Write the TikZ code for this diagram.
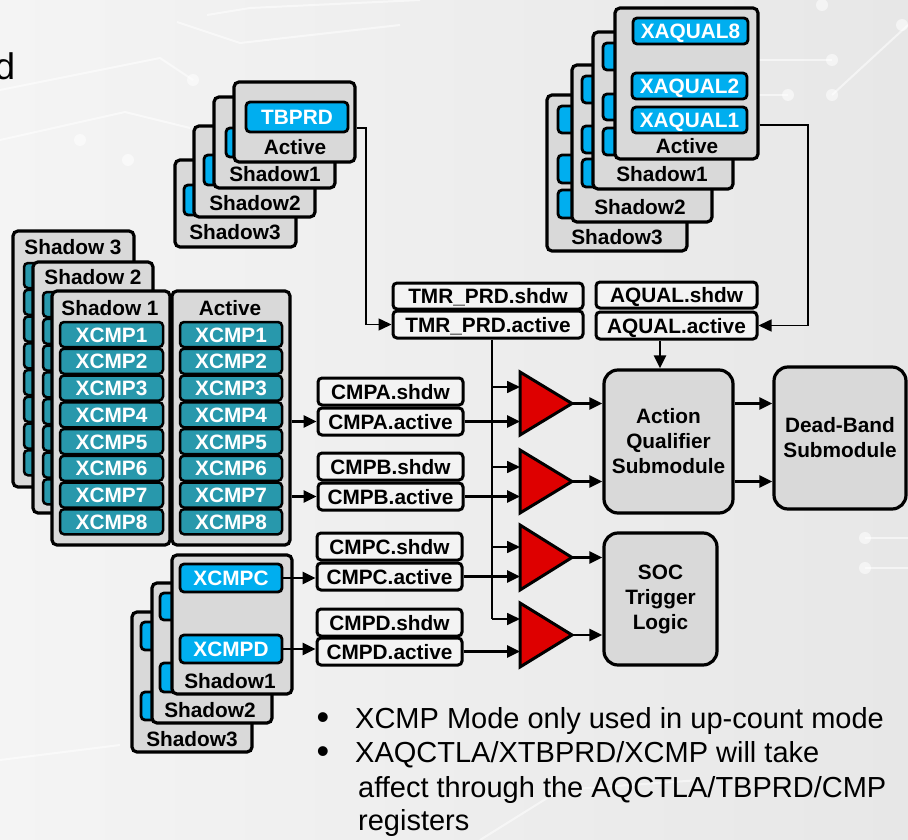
\documentclass[tikz,border=0pt]{standalone}
\usepackage{fontspec}
\setmainfont{Liberation Sans}
\usetikzlibrary{arrows.meta,calc}

\definecolor{bgleft}{RGB}{244,244,244}
\definecolor{bgright}{RGB}{231,231,231}
\definecolor{layerfill}{RGB}{217,217,217}
\definecolor{regfill}{RGB}{243,243,243}
\definecolor{xblue}{RGB}{0,174,239}
\definecolor{xteal}{RGB}{40,152,172}
\definecolor{ampred}{RGB}{222,0,0}

% box from corner (x1,y1) to (x2,y2), in pixel-like units
\newcommand\rbox[7][]{\node[#1,minimum width={(#5)-(#3)},minimum height={(#6)-(#4)}] (#2) at ({((#3)+(#5))/2},{((#4)+(#6))/2}) {#7};}

\tikzset{
  bf/.style={font=\bfseries\fontsize{20.8}{25}\selectfont},
  layer/.style={draw, line width=3.2pt, rounded corners=5pt, fill=layerfill, inner sep=0pt},
  xreg/.style={draw, line width=2.8pt, rounded corners=4pt, fill=xblue, text=white, bf,
               inner sep=0pt, text height=15pt, text depth=0pt},
  treg/.style={xreg, line width=2.5pt, fill=xteal},
  creg/.style={draw, line width=3pt, rounded corners=4pt, fill=regfill, bf,
               inner sep=0pt, text height=15pt, text depth=0pt},
  lbl/.style={bf, inner sep=0pt, text height=15pt, text depth=0pt},
  module/.style={draw, line width=3.2pt, rounded corners=14pt, fill=layerfill, bf,
                 align=center, inner sep=0pt},
  amp/.style={draw, line width=3pt, fill=ampred, line join=miter},
  arr/.style={-{Triangle[length=13pt,width=12pt]}},
  wire/.style={line width=1.5pt},
  bus/.style={line width=1.7pt},
  sig/.style={line width=2.7pt},
  trace/.style={white, line width=2pt, opacity=0.55},
  tdot/.style={fill=white, opacity=0.55},
  note/.style={font=\fontsize{29}{34}\selectfont, inner sep=0pt},
  bulletmark/.style={font=\fontsize{36}{38}\selectfont, inner sep=0pt, anchor=base,
                     text height=16pt, text depth=0pt},
}

\begin{document}
\begin{tikzpicture}[x=1pt,y=-1pt]
\useasboundingbox (0,0) rectangle (908,840);
\shade[left color=bgleft, right color=bgright] (0,0) rectangle (908,840);

% faint circuit traces in the background
\draw[trace] (0,90) -- (160,58) -- (193,80);
\fill[tdot] (193,80) circle (6);
\draw[trace] (0,140) -- (125,112) -- (190,128);
\fill[tdot] (80,140) circle (6);
\fill[tdot] (128,160) circle (6);
\draw[trace] (177,22) -- (240,43) -- (400,25);
\draw[trace] (207,15) -- (250,8) -- (420,0);
\draw[trace] (758,60) -- (832,60);
\fill[tdot] (832,60) circle (6);
\draw[trace] (758,95) -- (788,95);
\fill[tdot] (788,95) circle (6);
\fill[tdot] (832,95) circle (6);
\draw[trace] (832,95) -- (908,25);
\fill[tdot] (822,5) circle (6);
\fill[tdot] (902,25) circle (6);
\draw[trace] (865,538) -- (908,538);
\fill[tdot] (865,538) circle (6);
\draw[trace] (865,568) -- (908,568);
\fill[tdot] (865,568) circle (6);
\draw[trace] (0,760) -- (120,745);
\draw[trace] (480,840) -- (560,790) -- (700,780);

% cut-off heading letter
\node[anchor=base east, inner sep=0pt, font=\fontsize{37}{40}\selectfont] (dtxt) at (15.5,80) {d};

% ---------- TBPRD register stack ----------
\rbox[layer]{tbS3}{175}{160}{296}{247}{}
\rbox[xreg]{tbS3r}{184}{185}{286}{215}{}
\node[lbl] (tbS3l) at (235,232) {Shadow3};
\rbox[layer]{tbS2}{194}{126}{315}{217}{}
\rbox[xreg]{tbS2r}{204}{155}{306}{185}{}
\node[lbl] (tbS2l) at (255,203) {Shadow2};
\rbox[layer]{tbS1}{214}{97}{335}{188}{}
\rbox[xreg]{tbS1r}{226}{128}{328}{157}{}
\node[lbl] (tbS1l) at (275,174) {Shadow1};
\rbox[layer]{tbA}{234}{82}{355}{162}{}
\rbox[xreg]{tbAr}{246}{102}{348}{132}{TBPRD}
\node[lbl] (tbAl) at (295,147) {Active};

% ---------- XAQUAL register stack ----------
\rbox[layer]{xaS3}{547}{95}{687}{251}{}
\rbox[xreg]{xaS3a}{558}{106}{672}{133}{}
\rbox[xreg]{xaS3b}{558}{155}{672}{183}{}
\rbox[xreg]{xaS3c}{558}{190}{672}{218}{}
\node[lbl] (xaS3l) at (617,237) {Shadow3};
\rbox[layer]{xaS2}{572}{65}{712}{222}{}
\rbox[xreg]{xaS2a}{582}{76}{697}{103}{}
\rbox[xreg]{xaS2b}{582}{126}{697}{153}{}
\rbox[xreg]{xaS2c}{582}{159}{697}{187}{}
\node[lbl] (xaS2l) at (640,207) {Shadow2};
\rbox[layer]{xaS1}{593}{32}{733}{189}{}
\rbox[xreg]{xaS1a}{603}{43}{718}{70}{}
\rbox[xreg]{xaS1b}{603}{94}{718}{120}{}
\rbox[xreg]{xaS1c}{603}{128}{718}{155}{}
\node[lbl] (xaS1l) at (662,174) {Shadow1};
\rbox[layer]{xaA}{615}{8}{758}{159}{}
\rbox[xreg]{xaA8}{633}{18}{748}{44}{XAQUAL8}
\rbox[xreg]{xaA2}{632}{73}{747}{99}{XAQUAL2}
\rbox[xreg]{xaA1}{632}{107}{747}{133}{XAQUAL1}
\node[lbl] (xaAl) at (687,146) {Active};

% ---------- XCMP1..8 register stack ----------
\rbox[layer]{lS3}{13}{231}{134}{487}{}
\foreach \n in {1,...,8} {\rbox[treg]{lS3r\n}{24}{263+(\n-1)*26.75}{128}{288+(\n-1)*26.75}{}}
\node[lbl] (lS3l) at (73,247) {Shadow 3};
\rbox[layer]{lS2}{33}{262}{153}{513}{}
\foreach \n in {1,...,8} {\rbox[treg]{lS2r\n}{43}{292+(\n-1)*26.75}{148}{317+(\n-1)*26.75}{}}
\node[lbl] (lS2l) at (93,277) {Shadow 2};
\rbox[layer]{lS1}{52}{291}{170}{545}{}
\foreach \n in {1,...,8} {\rbox[treg]{lS1r\n}{60}{322+(\n-1)*26.75}{163}{347+(\n-1)*26.75}{XCMP\n}}
\node[lbl] (lS1l) at (110,308) {Shadow 1};
\rbox[layer]{lAct}{172}{291}{290}{545}{}
\foreach \n in {1,...,8} {\rbox[treg]{lActr\n}{180}{322+(\n-1)*26.75}{282}{347+(\n-1)*26.75}{XCMP\n}}
\node[lbl] (lActl) at (230,308) {Active};

% ---------- XCMPC / XCMPD register stack ----------
\rbox[layer]{xcS3}{132}{612}{252}{752}{}
\rbox[xreg]{xcS3a}{141}{622}{245}{650}{}
\rbox[xreg]{xcS3b}{141}{692}{245}{720}{}
\node[lbl] (xcS3l) at (192,739) {Shadow3};
\rbox[layer]{xcS2}{152}{583}{272}{723}{}
\rbox[xreg]{xcS2a}{160}{593}{264}{620}{}
\rbox[xreg]{xcS2b}{160}{663}{264}{692}{}
\node[lbl] (xcS2l) at (210,710) {Shadow2};
\rbox[layer]{xcS1}{172}{555}{292}{694}{}
\rbox[xreg]{xcC}{180}{564}{282}{592}{XCMPC}
\rbox[xreg]{xcD}{180}{635}{282}{663}{XCMPD}
\node[lbl] (xcS1l) at (230,681) {Shadow1};

% ---------- shadow / active register pairs ----------
\rbox[creg]{tmrS}{393}{283}{583}{309}{TMR\_PRD.shdw}
\rbox[creg]{tmrA}{393}{311}{583}{338}{TMR\_PRD.active}
\rbox[creg]{aqS}{596}{282}{757}{308}{AQUAL.shdw}
\rbox[creg]{aqA}{596}{312}{757}{339}{AQUAL.active}
\rbox[creg]{cmpAs}{318}{378}{463}{405}{CMPA.shdw}
\rbox[creg]{cmpAa}{318}{408}{463}{435}{CMPA.active}
\rbox[creg]{cmpBs}{318}{453}{463}{480}{CMPB.shdw}
\rbox[creg]{cmpBa}{318}{483}{463}{510}{CMPB.active}
\rbox[creg]{cmpCs}{317}{533}{462}{560}{CMPC.shdw}
\rbox[creg]{cmpCa}{317}{563}{462}{590}{CMPC.active}
\rbox[creg]{cmpDs}{317}{609}{462}{636}{CMPD.shdw}
\rbox[creg]{cmpDa}{317}{638}{462}{665}{CMPD.active}

% ---------- submodules ----------
\rbox[module]{aq}{604}{370}{733}{513}{Action\\Qualifier\\Submodule}
\rbox[module]{db}{774}{367}{906}{509}{Dead-Band\\Submodule}
\rbox[module]{soc}{604}{533}{717}{665}{SOC\\Trigger\\Logic}

% ---------- comparators ----------
\draw[amp] (520,372) coordinate (ampA) -- (520,435) -- (572,403.5) coordinate (ampAo) -- cycle;
\draw[amp] (520,450) coordinate (ampB) -- (520,513) -- (572,481.5) coordinate (ampBo) -- cycle;
\draw[amp] (520,525) coordinate (ampC) -- (520,590) -- (572,557.5) coordinate (ampCo) -- cycle;
\draw[amp] (520,603) coordinate (ampD) -- (520,667) -- (572,635) coordinate (ampDo) -- cycle;

% ---------- connectors ----------
\coordinate (tbBend) at (366,128);
\draw[wire, arr] (tbA.east |- tbBend) -- (tbBend) |- (tmrA.west);
\coordinate (xaBend) at (808,125);
\draw[wire, arr] (xaA.east |- xaBend) -- (xaBend) |- (aqA.east);
\coordinate (aqDrop) at (660,0);
\draw[sig, arr] (aqA.south -| aqDrop) -- (aq.north -| aqDrop);

% period bus feeding every comparator
\coordinate (busX) at (492,0);
\coordinate (tapA) at (492,387);
\coordinate (tapB) at (492,467);
\coordinate (tapC) at (492,547);
\coordinate (tapD) at (492,619);
\draw[bus] (tmrA.south -| busX) -- (tapD);
\foreach \t/\a in {tapA/ampA, tapB/ampB, tapC/ampC, tapD/ampD}
  \draw[bus, arr] (\t) -- (\t -| \a);

% compare values into comparators
\foreach \c/\a in {cmpAa/ampA, cmpBa/ampB, cmpCa/ampC, cmpDa/ampD}
  \draw[sig, arr] (\c.east) -- (\c.east -| \a);

% register stacks into active compare registers
\draw[sig, arr] (lAct.east |- cmpAa) -- (cmpAa.west);
\draw[sig, arr] (lAct.east |- cmpBa) -- (cmpBa.west);
\draw[sig, arr] (xcC.east) -- (xcC.east -| cmpCa.west);
\draw[sig, arr] (xcD.east) -- (xcD.east -| cmpDa.west);

% comparator outputs
\draw[sig, arr] (ampAo) -- (ampAo -| aq.west);
\draw[sig, arr] (ampBo) -- (ampBo -| aq.west);
\draw[sig, arr] (ampCo) -- (ampCo -| soc.west);
\draw[sig, arr] (ampDo) -- (ampDo -| soc.west);
\draw[sig, arr] (ampAo -| aq.east) -- (ampAo -| db.west);
\draw[sig, arr] (ampBo -| aq.east) -- (ampBo -| db.west);

% ---------- notes ----------
\node[bulletmark] (b1) at (323,729) {•};
\node[bulletmark] (b2) at (323,763) {•};
\node[note, anchor=base west] (t1) at (355,728) {XCMP Mode only used in up-count mode};
\node[note, anchor=base west] (t2) at (355,762) {XAQCTLA/XTBPRD/XCMP will take};
\node[note, anchor=base west] (t3) at (358,797) {affect through the AQCTLA/TBPRD/CMP};
\node[note, anchor=base west] (t4) at (358,830) {registers};
\end{tikzpicture}
\end{document}
